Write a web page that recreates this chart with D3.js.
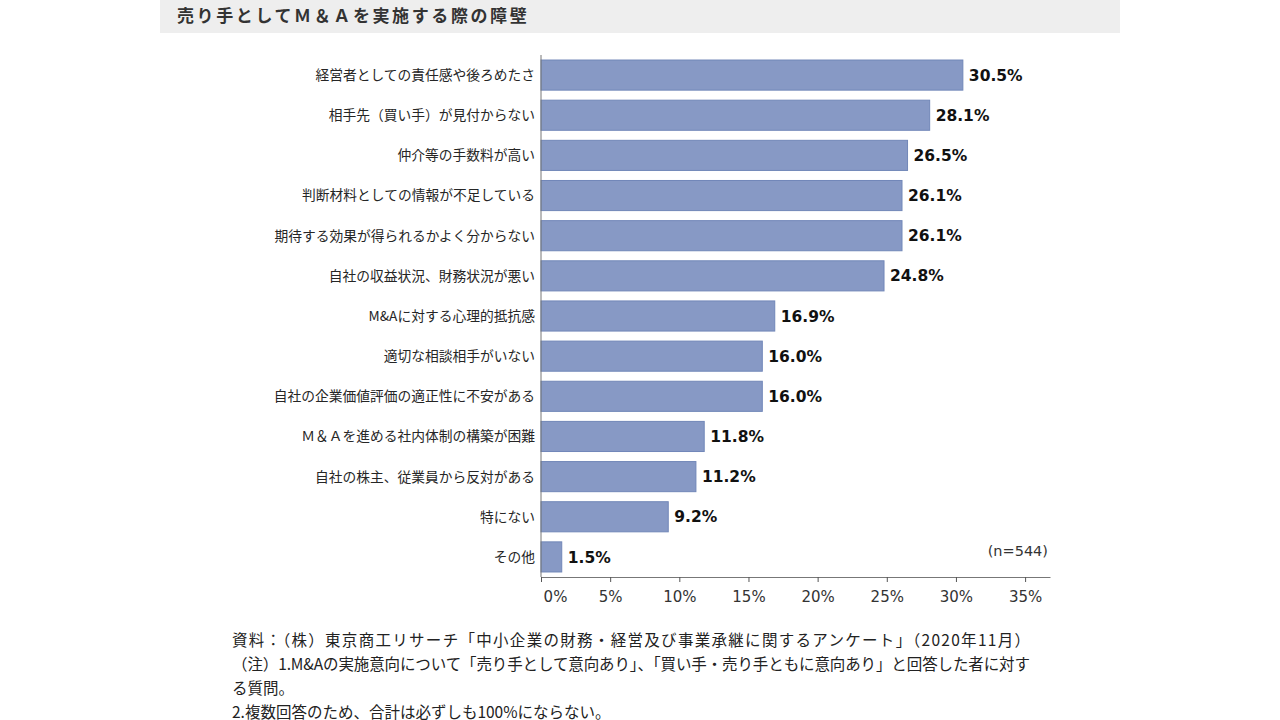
<!DOCTYPE html>
<html>
<head>
<meta charset="utf-8">
<script src="https://cdn.jsdelivr.net/npm/d3@7"></script>
<style>
  body { margin: 0; background: #fff; }
  svg { display: block; }
  .cat { font-family: "Noto Sans CJK JP", sans-serif; font-size: 13.75px; fill: #262626; }
  .val { font-family: "DejaVu Sans", sans-serif; font-size: 15.5px; font-weight: bold; fill: #111; }
  .tick text { font-family: "DejaVu Sans", sans-serif; font-size: 15px; fill: #333; }
  .note { font-family: "Noto Sans CJK JP", sans-serif; font-size: 15.5px; fill: #222; }
</style>
</head>
<body>
<svg width="1280" height="720"></svg>
<script>
// categories, top to bottom
var categories = [
  "経営者としての責任感や後ろめたさ",
  "相手先（買い手）が見付からない",
  "仲介等の手数料が高い",
  "判断材料としての情報が不足している",
  "期待する効果が得られるかよく分からない",
  "自社の収益状況、財務状況が悪い",
  "M&Aに対する心理的抵抗感",
  "適切な相談相手がいない",
  "自社の企業価値評価の適正性に不安がある",
  "Ｍ＆Ａを進める社内体制の構築が困難",
  "自社の株主、従業員から反対がある",
  "特にない",
  "その他"
];

// percent values
var values = [30.5, 28.1, 26.5, 26.1, 26.1, 24.8, 16.9, 16.0, 16.0, 11.8, 11.2, 9.2, 1.5];

var tickValues = [0, 5, 10, 15, 20, 25, 30, 35];

var title = "売り手としてＭ＆Ａを実施する際の障壁";
var sampleNote = "(n=544)";
var notes = [
  "資料：（株）東京商工リサーチ「中小企業の財務・経営及び事業承継に関するアンケート」（2020年11月）",
  "（注）1.M&Aの実施意向について「売り手として意向あり」、「買い手・売り手ともに意向あり」と回答した者に対す",
  "る質問。",
  "2.複数回答のため、合計は必ずしも100%にならない。"
];

drawChart();

function drawChart() {

  var svg = d3.select("svg");

  // title band
  svg.append("rect")
    .attr("x", 160)
    .attr("y", 0)
    .attr("width", 960)
    .attr("height", 33)
    .attr("fill", "#eeeeee");

  svg.append("text")
    .attr("x", 177)
    .attr("y", 22)
    .attr("font-family", "Noto Sans CJK JP, sans-serif")
    .attr("font-size", "17px")
    .attr("font-weight", "bold")
    .attr("letter-spacing", "2.6px")
    .attr("fill", "#333")
    .text(title);

  var plotLeft = 541, plotRight = 1050, plotTop = 55, plotBottom = 577;

  var x = d3.scaleLinear()
    .domain([0, 36.8])
    .range([plotLeft, plotRight]);

  var y = d3.scaleBand()
    .domain(categories)
    .range([plotTop, plotBottom])
    .paddingInner(0.25)
    .paddingOuter(0.125);

  // bars
  svg.selectAll(".bar")
    .data(values)
    .enter()
    .append("rect")
    .attr("class", "bar")
    .attr("x", x(0))
    .attr("y", function(d, i) { return y(categories[i]); })
    .attr("width", function(d) { return x(d) - x(0); })
    .attr("height", y.bandwidth())
    .attr("fill", "#8799c5")
    .attr("stroke", "#7187b8")
    .attr("stroke-width", 1);

  // value labels
  svg.selectAll(".val")
    .data(values)
    .enter()
    .append("text")
    .attr("class", "val")
    .attr("x", function(d) { return x(d) + 6; })
    .attr("y", function(d, i) { return y(categories[i]) + y.bandwidth() / 2; })
    .attr("dy", "0.36em")
    .text(function(d) { return d.toFixed(1) + "%"; });

  // category labels
  svg.selectAll(".cat")
    .data(categories)
    .enter()
    .append("text")
    .attr("class", "cat")
    .attr("x", plotLeft - 6)
    .attr("y", function(d) { return y(d) + y.bandwidth() / 2; })
    .attr("dy", "0.36em")
    .attr("text-anchor", "end")
    .text(function(d) { return d; });

  // x axis
  var xAxis = d3.axisBottom(x)
    .tickValues(tickValues)
    .tickSize(5)
    .tickSizeOuter(0)
    .tickPadding(9)
    .tickFormat(function(d) { return d + "%"; });

  var gx = svg.append("g")
    .attr("class", "xaxis")
    .attr("transform", "translate(0," + plotBottom + ")")
    .call(xAxis);
  gx.select(".domain").attr("stroke", "#777");
  gx.selectAll(".tick line").attr("stroke", "#555");

  // the 0% label sits a little right of its tick in the source
  gx.selectAll(".tick text")
    .filter(function(d) { return d === 0; })
    .attr("dx", 14);

  // y axis line
  svg.append("line")
    .attr("x1", plotLeft)
    .attr("x2", plotLeft)
    .attr("y1", plotTop)
    .attr("y2", plotBottom)
    .attr("stroke", "#777");

  // sample size
  svg.append("text")
    .attr("x", 1048)
    .attr("y", 556)
    .attr("text-anchor", "end")
    .attr("font-family", "DejaVu Sans, sans-serif")
    .attr("font-size", "14.5px")
    .attr("fill", "#333")
    .text(sampleNote);

  // notes, first two lines are stretched to the full width like the source
  svg.selectAll(".note")
    .data(notes)
    .enter()
    .append("text")
    .attr("class", "note")
    .attr("x", 232)
    .attr("y", function(d, i) { return 646 + i * 24; })
    .each(function(d, i) {
      if (i < 2) {
        d3.select(this)
          .attr("textLength", 798)
          .attr("lengthAdjust", "spacing");
      }
    })
    .text(function(d) { return d; });
}
</script>
</body>
</html>
